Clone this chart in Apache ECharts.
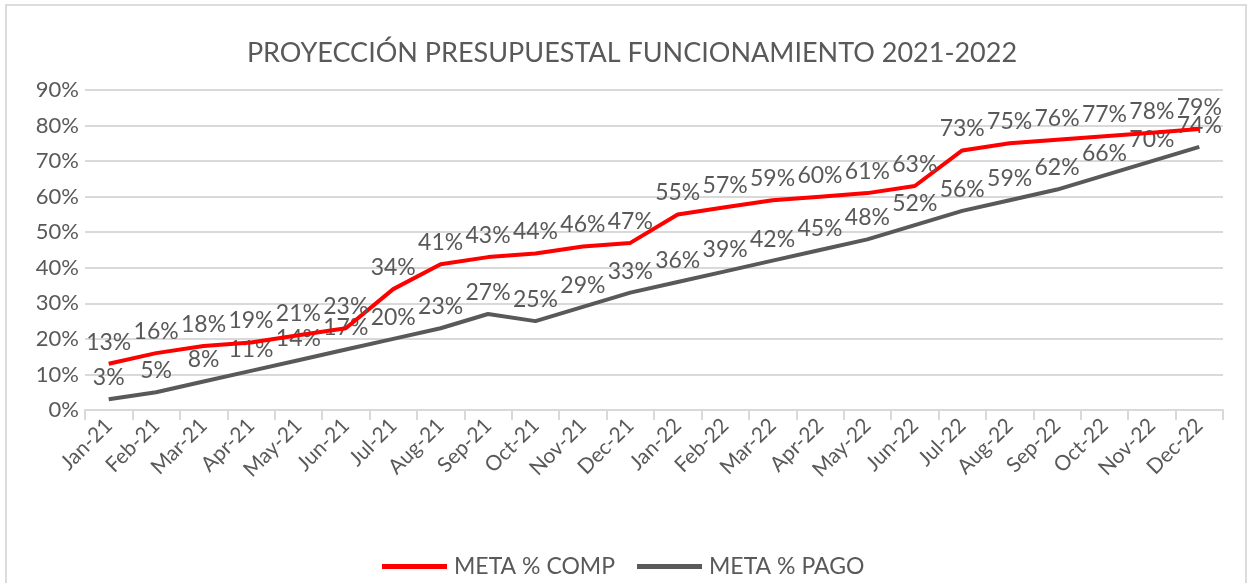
<!DOCTYPE html>
<html>
<head>
<meta charset="utf-8">
<script src="https://cdn.jsdelivr.net/npm/echarts@6/dist/echarts.min.js"></script>
<style>
  html, body { margin: 0; padding: 0; background: #fff; }
  #frame { position: absolute; left: 5px; top: 4px; width: 1242px; height: 590px; border: 2px solid #dcdcdc; box-sizing: border-box; }
  #chart { position: absolute; left: 0; top: 0; width: 1247px; height: 583px; }
</style>
</head>
<body>
<div id="frame"></div>
<div id="chart"></div>
<script>
const months = ['Jan-21', 'Feb-21', 'Mar-21', 'Apr-21', 'May-21', 'Jun-21', 'Jul-21', 'Aug-21', 'Sep-21', 'Oct-21', 'Nov-21', 'Dec-21',
  'Jan-22', 'Feb-22', 'Mar-22', 'Apr-22', 'May-22', 'Jun-22', 'Jul-22', 'Aug-22', 'Sep-22', 'Oct-22', 'Nov-22', 'Dec-22']
// valores en %
const metaComp = [13, 16, 18, 19, 21, 23, 34, 41, 43, 44, 46, 47, 55, 57, 59, 60, 61, 63, 73, 75, 76, 77, 78, 79]
const metaPago = [3, 5, 8, 11, 14, 17, 20, 23, 27, 25, 29, 33, 36, 39, 42, 45, 48, 52, 56, 59, 62, 66, 70, 74]
const yTicks = [0, 10, 20, 30, 40, 50, 60, 70, 80, 90]

const textColor = '#595959'
const chart = echarts.init(document.getElementById('chart'))

chart.setOption({
  textStyle: { fontFamily: 'Lato' },
  title: {
    text: 'PROYECCIÓN PRESUPUESTAL FUNCIONAMIENTO 2021-2022',
    left: 627,
    top: 35,
    textAlign: 'center',
    textStyle: { color: textColor, fontSize: 27, fontWeight: 'normal', fontFamily: 'Lato' }
  },
  legend: {
    top: 550,
    left: 377,
    itemWidth: 65,
    itemHeight: 5,
    itemGap: 22,
    icon: 'rect',
    textStyle: { color: textColor, fontSize: 23, fontFamily: 'Lato', padding: [0, 0, 0, 2] },
    data: ['META % COMP', 'META % PAGO']
  },
  grid: {
    left: 85,
    right: 24,
    top: 90,
    bottom: 173
  },
  xAxis: {
    type: 'category',
    data: months,
    boundaryGap: true,
    axisLine: { lineStyle: { color: '#d9d9d9', width: 2 } },
    axisTick: { show: true, length: 10, lineStyle: { color: '#d9d9d9', width: 2 } },
    axisLabel: { color: textColor, fontSize: 21, rotate: 45, interval: 0, margin: 12 }
  },
  yAxis: {
    type: 'value',
    min: yTicks[0],
    max: yTicks[yTicks.length - 1],
    interval: 10,
    axisLine: { show: false },
    axisTick: { show: false },
    splitLine: { lineStyle: { color: '#d9d9d9', width: 2 } },
    axisLabel: { color: textColor, fontSize: 22, formatter: '{value}%', margin: 6 }
  },
  series: [
    {
      name: 'META % COMP',
      type: 'line',
      data: metaComp,
      symbol: 'circle',
      symbolSize: 0.1,
      showSymbol: true,
      itemStyle: { color: '#ff0000' },
      lineStyle: { color: '#ff0000', width: 4 },
      label: { show: true, position: 'top', distance: 10, color: textColor, fontSize: 23, formatter: '{c}%' },
      z: 3
    },
    {
      name: 'META % PAGO',
      type: 'line',
      data: metaPago,
      symbol: 'circle',
      symbolSize: 0.1,
      showSymbol: true,
      itemStyle: { color: '#595959' },
      lineStyle: { color: '#595959', width: 4 },
      label: { show: true, position: 'top', distance: 10, color: textColor, fontSize: 23, formatter: '{c}%' },
      z: 2
    }
  ],
  animation: false
})
</script>
</body>
</html>
